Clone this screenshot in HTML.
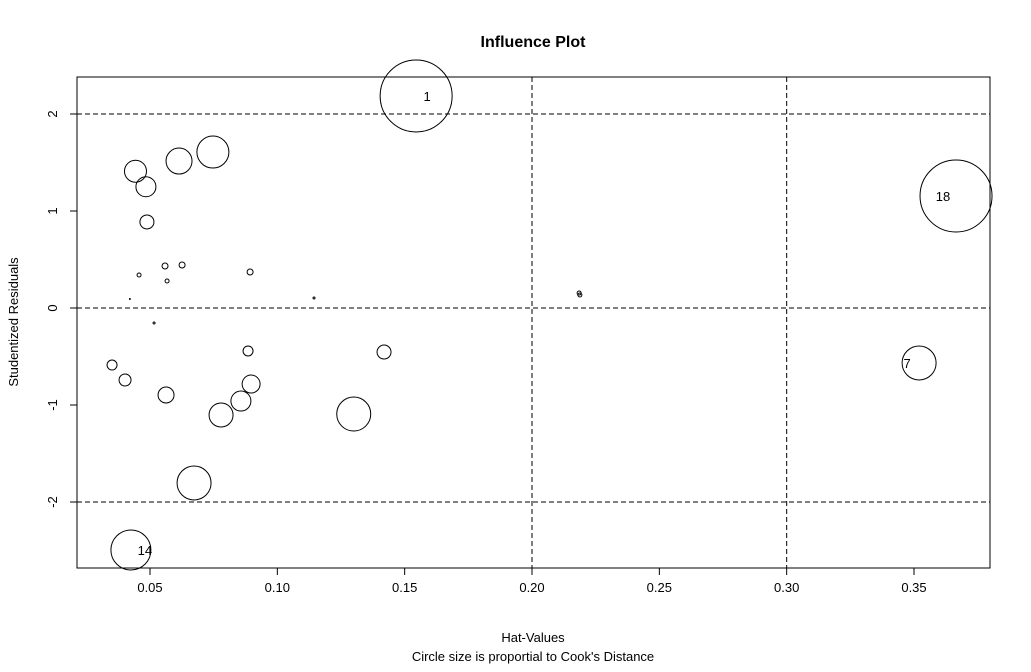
<!DOCTYPE html>
<html><head><meta charset="utf-8"><style>
body{margin:0;background:#fff;}
svg text{font-family:"Liberation Sans",Arial,sans-serif;}
</style></head><body>
<svg id="chart" width="1031" height="667" xmlns="http://www.w3.org/2000/svg">
<text x="533" y="47" text-anchor="middle" font-size="16" font-weight="bold">Influence Plot</text>
<text x="533" y="642" text-anchor="middle" font-size="13">Hat-Values</text>
<text x="533" y="661" text-anchor="middle" font-size="13">Circle size is proportial to Cook's Distance</text>
<text transform="translate(18,322) rotate(-90)" text-anchor="middle" font-size="13">Studentized Residuals</text>
<rect x="77" y="77" width="913" height="491" fill="none" stroke="#000" stroke-width="1"/>
<g id="grid"></g><g id="ticks"></g><g id="points"></g><g id="labels"></g>
</svg>
<script>
const xTicks=[0.05,0.10,0.15,0.20,0.25,0.30,0.35];
const xTickLabels=["0.05","0.10","0.15","0.20","0.25","0.30","0.35"];
const yTicks=[-2,-1,0,1,2];
const yTickLabels=["-2","-1","0","1","2"];
const hLines=[-2,0,2];
const vLines=[0.20,0.30];
const hatValues=[0.1545,0.3665,0.352,0.0425,0.0443,0.0484,0.0614,0.0747,0.0488,0.0457,0.0559,0.0626,0.0567,0.0893,0.0421,0.1144,0.2185,0.2188,0.0516,0.0351,0.0402,0.0563,0.0885,0.1419,0.0897,0.0857,0.0779,0.130,0.0673];
const residuals=[2.186,1.155,-0.567,-2.495,1.41,1.25,1.515,1.608,0.887,0.34,0.433,0.443,0.278,0.371,0.093,0.103,0.154,0.134,-0.155,-0.588,-0.742,-0.897,-0.443,-0.454,-0.784,-0.959,-1.103,-1.093,-1.804];
const circleSizes=[36,36,17,20,11,10,13,16,7,2,3,3,2,3,0.5,1,2,2,1,5,6,8,5,7,9,10,12,17,17];
const pointLabels=["1","18","7","14"];
const labelIdx=[0,1,2,3];
const labelDx=[11,-13,-12,14];
const X=v=>150+(v-0.05)*2546.7;
const Y=v=>308-v*97;
const NS="http://www.w3.org/2000/svg";
function mk(t,a,p){const e=document.createElementNS(NS,t);for(const k in a)e.setAttribute(k,a[k]);p.appendChild(e);return e;}
const g=document.getElementById('grid'),tk=document.getElementById('ticks'),pt=document.getElementById('points'),lb=document.getElementById('labels');
hLines.forEach(v=>{const l=mk('line',{x1:77,x2:990,y1:Y(v),y2:Y(v),stroke:'#000','stroke-dasharray':'5,3'},g);

});
vLines.forEach(v=>{const l=mk('line',{x1:X(v),x2:X(v),y1:77,y2:568,stroke:'#000','stroke-dasharray':'5,3'},g);

});
xTicks.forEach((v,i)=>{mk('line',{x1:X(v),x2:X(v),y1:568,y2:575,stroke:'#000'},tk);
const t=mk('text',{x:X(v),y:592,'text-anchor':'middle','font-size':13},tk);t.textContent=xTickLabels[i];

});
yTicks.forEach((v,i)=>{mk('line',{x1:70,x2:77,y1:Y(v),y2:Y(v),stroke:'#000'},tk);
const t=mk('text',{transform:`translate(57,${Y(v)}) rotate(-90)`,'text-anchor':'middle','font-size':13},tk);t.textContent=yTickLabels[i];

});
hatValues.forEach((h,i)=>{const c=mk('circle',{cx:X(h),cy:Y(residuals[i]),r:circleSizes[i],fill:'none',stroke:'#000','stroke-width':1},pt);

});
labelIdx.forEach((idx,i)=>{const t=mk('text',{x:X(hatValues[idx])+labelDx[i],y:Y(residuals[idx])+5,'text-anchor':'middle','font-size':13},lb);t.textContent=pointLabels[i];

});
</script>
</body></html>
